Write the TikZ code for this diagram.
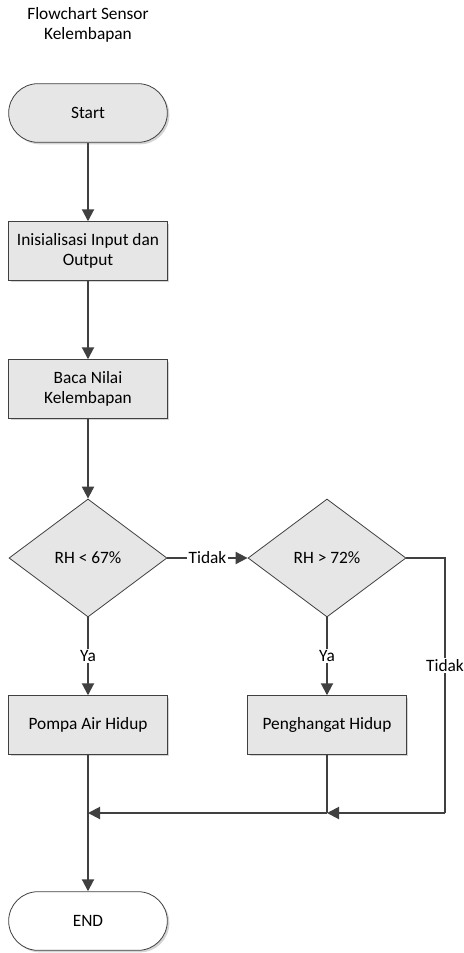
\documentclass[tikz,border=0pt]{standalone}
\usepackage{fontspec}
\setmainfont{Carlito}
\usetikzlibrary{arrows.meta,shapes.geometric,shadows}
\definecolor{fline}{HTML}{404040}
\definecolor{fbox}{HTML}{E6E6E6}
\definecolor{fshade}{HTML}{D4D4D4}

\begin{document}
\begin{tikzpicture}[x=0.75pt, y=-0.75pt,
  font=\fontsize{13}{15.5}\selectfont,
  terminal/.style={draw=fline, line width=0.6pt, rectangle, rounded corners=22pt,
    minimum width=119pt, minimum height=44pt,
    drop shadow={shadow xshift=1.5pt, shadow yshift=-1.5pt, fill=fshade, opacity=1}},
  process/.style={draw=fline, line width=0.6pt, fill=fbox, rectangle, align=center,
    minimum width=119pt, minimum height=44pt, inner sep=2pt,
    drop shadow={shadow xshift=1.5pt, shadow yshift=-1.5pt, fill=fshade, opacity=1}},
  decision/.style={draw=fline, line width=0.6pt, fill=fbox, diamond, aspect=1.34,
    minimum width=118.5pt, minimum height=88.5pt, inner sep=0pt},
  flow/.style={draw=fline, line width=1.5pt, -{Triangle[length=9pt,width=9pt]}},
  wire/.style={draw=fline, line width=1.5pt},
  tag/.style={fill=white, inner sep=1pt}]
\useasboundingbox (0,0) rectangle (464,953);
% title
\node[align=center] (title) at (88,25) {Flowchart Sensor\\Kelembapan};
% main column
\node[terminal, fill=fbox] (start) at (88,113) {Start};
\node[process] (init) at (88,251) {Inisialisasi Input dan\\Output};
\node[process] (baca) at (88,389) {Baca Nilai\\Kelembapan};
\node[decision] (rhlow) at (88,558) {RH < 67\%};
\node[decision] (rhhigh) at (327,558) {RH > 72\%};
\node[process] (pompa) at (88,725) {Pompa Air Hidup};
\node[process] (hangat) at (327,725) {Penghangat Hidup};
\node[terminal, fill=white] (end) at (88,921) {END};
% merge points
\coordinate (mergeR) at (445,813);
\coordinate (mergeM) at (327,813);
\coordinate (mergeL) at (88,813);
% connectors
\draw[flow] (start) -- (init);
\draw[flow] (init) -- (baca);
\draw[flow] (baca) -- (rhlow);
\draw[flow] (rhlow) -- node[tag] {Tidak} (rhhigh);
\draw[flow] (rhlow) -- node[tag] {Ya} (pompa);
\draw[flow] (rhhigh) -- node[tag] {Ya} (hangat);
\draw[wire] (rhhigh.east) -| node[tag, pos=0.71] {Tidak} (mergeR);
\draw[flow] (mergeR) -- (mergeM);
\draw[wire] (hangat) -- (mergeM);
\draw[flow] (mergeM) -- (mergeL);
\draw[flow] (pompa) -- (end);
\end{tikzpicture}
\end{document}
